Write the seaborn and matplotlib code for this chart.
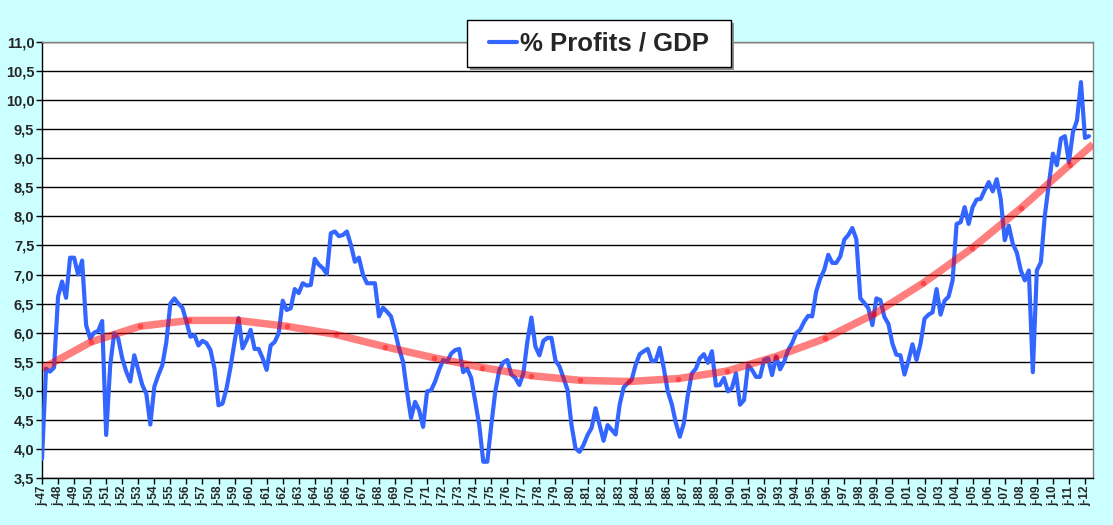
import numpy as np
import pandas as pd
import matplotlib
matplotlib.use("Agg")
import matplotlib.pyplot as plt
import seaborn as sns
from matplotlib.lines import Line2D
from matplotlib.patches import Rectangle

# quarterly corporate profits as % of GDP, 1947 Q1 .. 2012 Q2
profit_share = [
    3.83, 5.38, 5.33, 5.40,   # 1947
    6.62, 6.88, 6.60, 7.29,   # 1948
    7.29, 7.00, 7.24, 6.13,   # 1949
    5.90, 6.00, 6.03, 6.20,   # 1950
    4.24, 5.44, 5.99, 5.90,   # 1951
    5.56, 5.33, 5.16, 5.61,   # 1952
    5.36, 5.10, 4.95, 4.42,   # 1953
    5.07, 5.27, 5.44, 5.84,   # 1954
    6.50, 6.59, 6.50, 6.43,   # 1955
    6.19, 5.93, 5.96, 5.78,   # 1956
    5.86, 5.82, 5.70, 5.38,   # 1957
    4.75, 4.78, 5.04, 5.41,   # 1958
    5.84, 6.25, 5.73, 5.87,   # 1959
    6.05, 5.72, 5.72, 5.56,   # 1960
    5.36, 5.78, 5.84, 5.99,   # 1961
    6.55, 6.39, 6.42, 6.75,   # 1962
    6.68, 6.85, 6.81, 6.82,   # 1963
    7.27, 7.17, 7.11, 7.01,   # 1964
    7.71, 7.74, 7.66, 7.68,   # 1965
    7.74, 7.51, 7.22, 7.29,   # 1966
    7.00, 6.85, 6.85, 6.85,   # 1967
    6.28, 6.43, 6.36, 6.28,   # 1968
    6.02, 5.73, 5.50, 4.98,   # 1969
    4.53, 4.81, 4.67, 4.38,   # 1970
    4.99, 5.01, 5.16, 5.36,   # 1971
    5.53, 5.50, 5.64, 5.70,   # 1972
    5.72, 5.32, 5.38, 5.22,   # 1973
    4.82, 4.41, 3.78, 3.78,   # 1974
    4.41, 4.99, 5.36, 5.49,   # 1975
    5.53, 5.28, 5.22, 5.10,   # 1976
    5.30, 5.85, 6.26, 5.76,   # 1977
    5.61, 5.86, 5.91, 5.91,   # 1978
    5.52, 5.42, 5.22, 5.02,   # 1979
    4.41, 4.01, 3.95, 4.07,   # 1980
    4.24, 4.36, 4.70, 4.41,   # 1981
    4.14, 4.41, 4.33, 4.25,   # 1982
    4.76, 5.06, 5.13, 5.19,   # 1983
    5.45, 5.63, 5.68, 5.72,   # 1984
    5.51, 5.52, 5.74, 5.39,   # 1985
    4.99, 4.77, 4.45, 4.21,   # 1986
    4.44, 4.93, 5.30, 5.38,   # 1987
    5.56, 5.63, 5.48, 5.68,   # 1988
    5.09, 5.10, 5.22, 4.99,   # 1989
    5.05, 5.30, 4.76, 4.84,   # 1990
    5.44, 5.36, 5.24, 5.24,   # 1991
    5.53, 5.56, 5.27, 5.59,   # 1992
    5.37, 5.50, 5.70, 5.82,   # 1993
    5.99, 6.05, 6.19, 6.29,   # 1994
    6.28, 6.71, 6.93, 7.08,   # 1995
    7.34, 7.20, 7.20, 7.31,   # 1996
    7.60, 7.68, 7.80, 7.61,   # 1997
    6.59, 6.51, 6.42, 6.13,   # 1998
    6.59, 6.56, 6.27, 6.15,   # 1999
    5.81, 5.62, 5.61, 5.28,   # 2000
    5.52, 5.80, 5.53, 5.81,   # 2001
    6.24, 6.31, 6.35, 6.75,   # 2002
    6.31, 6.55, 6.62, 6.90,   # 2003
    7.87, 7.90, 8.16, 7.87,   # 2004
    8.16, 8.29, 8.30, 8.45,   # 2005
    8.59, 8.43, 8.64, 8.30,   # 2006
    7.59, 7.84, 7.53, 7.38,   # 2007
    7.07, 6.90, 7.07, 5.32,   # 2008
    7.07, 7.21, 8.02, 8.56,   # 2009
    9.08, 8.88, 9.34, 9.38,   # 2010
    8.93, 9.45, 9.65, 10.31,  # 2011
    9.35, 9.38,               # 2012
]

# polynomial trendline at its segment joints
trend_q = [0, 12.2, 24.4, 36.6, 48.8, 61.0, 73.2, 85.4, 97.6, 109.8, 122.0,
           134.2, 146.4, 158.6, 170.8, 183.0, 195.2, 207.4, 219.6, 231.8,
           244.0, 256.2, 262.0]
trend_val = [5.38, 5.84, 6.11, 6.21, 6.21, 6.11, 5.97, 5.76, 5.57, 5.40, 5.26,
             5.18, 5.16, 5.21, 5.34, 5.59, 5.90, 6.32, 6.85, 7.45,
             8.14, 8.89, 9.24]

tick_years = list(range(1947, 2013))
tick_labels = ["j-%02d" % (y % 100) for y in tick_years]
y_ticks = [3.5, 4.0, 4.5, 5.0, 5.5, 6.0, 6.5, 7.0, 7.5, 8.0, 8.5, 9.0, 9.5, 10.0, 10.5, 11.0]

df = pd.DataFrame({"q": np.arange(len(profit_share)), "share": profit_share})
trend = pd.DataFrame({"q": trend_q, "val": trend_val})

sns.set_style("white")
plt.rcParams["font.family"] = ["Liberation Sans", "DejaVu Sans"]

bg = "#ccffff"
W, H = 1113, 525
fig = plt.figure(figsize=(W / 100, H / 100), dpi=100, facecolor=bg)
ax = fig.add_axes([42 / W, 47 / H, 1051 / W, 436 / H])
ax.set_facecolor("white")

sns.lineplot(data=df, x="q", y="share", ax=ax, color="#3366ff", linewidth=3.0, zorder=3)
ax.plot(trend["q"], trend["val"], color="red", alpha=0.5, linewidth=5.4,
        solid_capstyle="butt", zorder=4)
ax.scatter(trend["q"][1:-1], trend["val"][1:-1], s=16, color="red", alpha=0.45,
           linewidths=0, zorder=5)

ax.set_xlim(0, 262)
ax.set_ylim(3.5, 11.0)
ax.set_yticks(y_ticks)
ax.set_yticklabels([("%.1f" % v).replace(".", ",") for v in y_ticks],
                   fontsize=10.5, fontweight="bold")
ax.set_xticks([4 * k for k in range(len(tick_labels))])
ax.set_xticklabels(tick_labels, rotation=90, fontsize=8.5, fontweight="bold")
ax.tick_params(axis="both", direction="out", length=4, width=1, color="black", pad=1.5,
               bottom=True, left=True)
ax.grid(axis="y", color="black", linewidth=1)
ax.set_axisbelow(True)
ax.set_xlabel("")
ax.set_ylabel("")
for side in ["left", "bottom"]:
    ax.spines[side].set_color("black")
    ax.spines[side].set_linewidth(1)
for side in ["top", "right"]:
    ax.spines[side].set_color("#808080")
    ax.spines[side].set_linewidth(1)

# legend box with drop shadow
bx, by, bw, bh = 467, 20, 264, 47
fig.patches.append(Rectangle(((bx + 3) / W, 1 - (by + bh + 3) / H), bw / W, bh / H,
                             transform=fig.transFigure, facecolor="#909090",
                             edgecolor="none", zorder=8))
fig.patches.append(Rectangle((bx / W, 1 - (by + bh) / H), bw / W, bh / H,
                             transform=fig.transFigure, facecolor="white",
                             edgecolor="black", linewidth=1, zorder=9))
handle = Line2D([], [], color="#3366ff", linewidth=3)
leg = fig.legend([handle], ["% Profits / GDP"], loc="center",
                 bbox_to_anchor=((bx + bw / 2) / W, 1 - (by + bh / 2) / H),
                 prop={"size": 18.5, "weight": "bold"}, frameon=False,
                 handlelength=1.1, handletextpad=0.1, borderpad=0.2, borderaxespad=0)
leg.set_zorder(10)

fig.savefig("out.png", dpi=100, facecolor=bg)
